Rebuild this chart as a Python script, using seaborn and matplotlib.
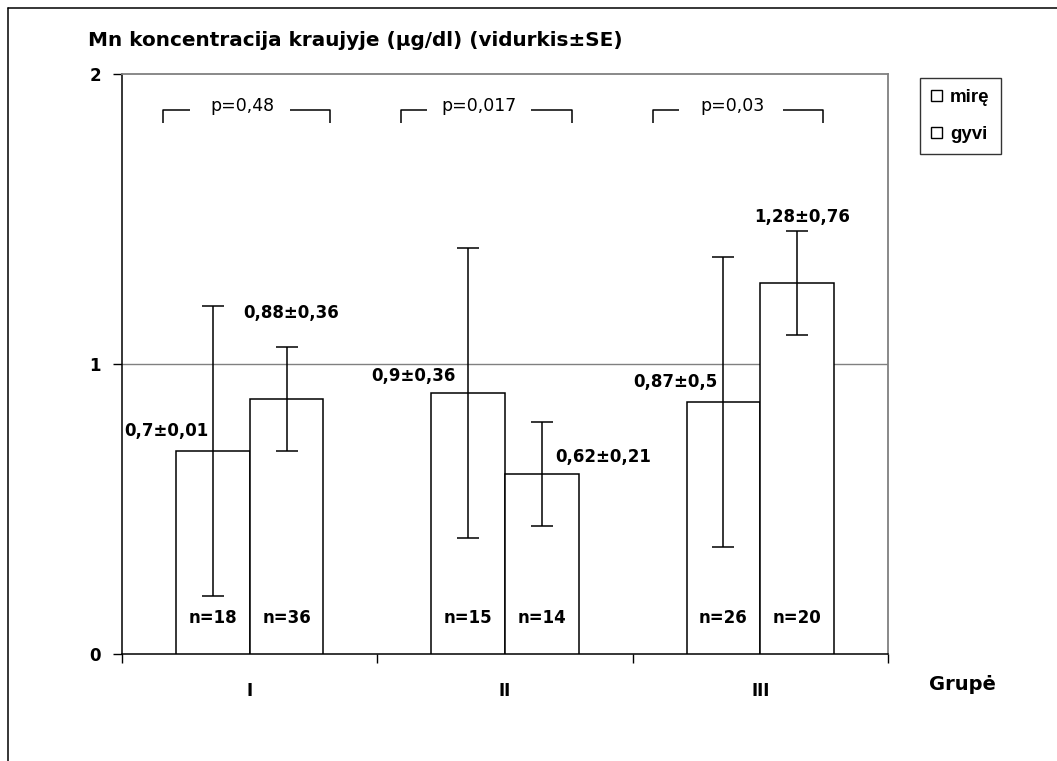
import matplotlib
matplotlib.use("Agg")
import matplotlib.pyplot as plt
from matplotlib.lines import Line2D
from matplotlib.patches import Patch
import seaborn as sns
import pandas as pd

# --- data -------------------------------------------------------------
groups = ["I", "II", "III"]
statuses = ["mirę", "gyvi"]
mean_mire = [0.70, 0.90, 0.87]
mean_gyvi = [0.88, 0.62, 1.28]
err_mire = [0.50, 0.50, 0.50]
err_gyvi = [0.18, 0.18, 0.18]
label_mire = ["0,7±0,01", "0,9±0,36", "0,87±0,5"]
label_gyvi = ["0,88±0,36", "0,62±0,21", "1,28±0,76"]
n_mire = [18, 15, 26]
n_gyvi = [36, 14, 20]
p_values = ["p=0,48", "p=0,017", "p=0,03"]

df = pd.DataFrame({
    "Grupė": groups * 2,
    "Būklė": [statuses[0]] * 3 + [statuses[1]] * 3,
    "Mn": mean_mire + mean_gyvi,
})

# --- style ------------------------------------------------------------
sns.set_theme(style="white")
FONT = ["DejaVu Sans"]
plt.rcParams["font.family"] = FONT
for key in ["text.color", "axes.labelcolor", "xtick.color", "ytick.color",
            "xtick.labelcolor", "ytick.labelcolor"]:
    plt.rcParams[key] = "black"

W, H, DPI = 1057, 761, 100
fig = plt.figure(figsize=(W / DPI, H / DPI), dpi=DPI)
fig.patch.set_facecolor("white")
ax = fig.add_axes([122 / W, 1 - 654 / H, (888 - 122) / W, (654 - 74) / H])

sns.barplot(data=df, x="Grupė", y="Mn", hue="Būklė", order=groups,
            hue_order=statuses, palette=["white", "white"],
            edgecolor="black", linewidth=1.1, width=0.578,
            errorbar=None, legend=False, ax=ax, zorder=3)
bar_containers = list(ax.containers)

ax.set_xlim(-0.5, 2.5)
ax.set_ylim(0, 2)

# horizontal reference line at 1
ax.axhline(1, color="#808080", lw=1.0, zorder=1)

# spines
for s in ["left", "bottom"]:
    ax.spines[s].set_color("black")
    ax.spines[s].set_linewidth(1.1)
for s in ["top", "right"]:
    ax.spines[s].set_color("#808080")
    ax.spines[s].set_linewidth(1.3)

LBL = 12  # bold label size

# ticks
ax.set_yticks([0, 1, 2])
ax.set_yticklabels(["0", "1", "2"], fontweight="bold", fontsize=LBL)
ax.set_xticks([0, 1, 2])
ax.set_xticklabels(groups, fontweight="bold", fontsize=LBL)
ax.set_xticks([-0.5, 0.5, 1.5, 2.5], minor=True)
ax.tick_params(axis="y", which="major", direction="out", length=6.5,
               width=1, color="black", left=True, pad=8.5)
ax.tick_params(axis="x", which="major", length=0, pad=20)
ax.tick_params(axis="x", which="minor", direction="out", length=6.5,
               width=1, color="black", bottom=True)
ax.set_xlabel("")
ax.set_ylabel("")

# error bars, value and n labels
means = [mean_mire, mean_gyvi]
errs = [err_mire, err_gyvi]
texts = [label_mire, label_gyvi]
ns = [n_mire, n_gyvi]
# label offsets in pixels from the top-centre of each bar
label_offsets = [
    [(-46, 20), (-55, 17), (-48, 20)],
    [(5, 86), (61, 17), (5, 66)],
]
for k, cont in enumerate(bar_containers):
    for j, bar in enumerate(cont.patches):
        xc = bar.get_x() + bar.get_width() / 2
        top = bar.get_height()
        ax.errorbar(xc, means[k][j], yerr=errs[k][j], fmt="none",
                    ecolor="black", elinewidth=1.1, capsize=8,
                    capthick=1.1, zorder=4)
        dx, dy = label_offsets[k][j]
        ax.annotate(texts[k][j], (xc, top), xytext=(dx, dy),
                    textcoords="offset pixels", ha="center", va="center",
                    fontsize=LBL, fontweight="bold", zorder=5)
        ax.annotate(f"n={ns[k][j]}", (xc, 0), xytext=(0, 36),
                    textcoords="offset pixels", ha="center", va="center",
                    fontsize=LBL, fontweight="bold", zorder=5)

# significance brackets: (left end, left gap, text centre, right gap, right end)
brackets = [
    (-0.340, -0.234, -0.030, 0.158, 0.315),
    (-0.409, -0.307, -0.101, 0.101, 0.263),
    (-0.422, -0.319, -0.109, 0.089, 0.246),
]
y_top, y_low = 1.876, 1.831
for g, (l0, l1, tc, r0, r1) in enumerate(brackets):
    ax.plot([g + l0, g + l0, g + l1], [y_low, y_top, y_top],
            color="black", lw=1.1, solid_capstyle="butt", zorder=4)
    ax.plot([g + r0, g + r1, g + r1], [y_top, y_top, y_low],
            color="black", lw=1.1, solid_capstyle="butt", zorder=4)
    ax.text(g + tc, y_top + 0.012, p_values[g], ha="center", va="center",
            fontsize=12.5, zorder=5)

# title and axis caption
fig.text(88 / W, 1 - 40 / H, "Mn koncentracija kraujyje (μg/dl) (vidurkis±SE)",
         ha="left", va="center", fontsize=14.4, fontweight="bold")
fig.text(962 / W, 1 - 684 / H, "Grupė", ha="center", va="center",
         fontsize=14, fontweight="bold")

# legend
handles = [Patch(facecolor="white", edgecolor="black", linewidth=1.0)
           for _ in statuses]
leg = fig.legend(handles, statuses, loc="upper left",
                 bbox_to_anchor=(920 / W, 1 - 78 / H), frameon=True,
                 fancybox=False, edgecolor="black", handlelength=0.55,
                 handleheight=0.55, handletextpad=0.45, labelspacing=1.05,
                 borderpad=0.6, borderaxespad=0,
                 prop={"family": ["Liberation Sans"], "weight": "bold",
                       "size": 13.5})
leg.get_frame().set_linewidth(1.0)

# outer frame of the figure
fig.add_artist(Line2D([8 / W, 1], [1 - 8 / H, 1 - 8 / H], color="black",
                      lw=1.1, transform=fig.transFigure))
fig.add_artist(Line2D([8 / W, 8 / W], [0, 1 - 8 / H], color="black",
                      lw=1.1, transform=fig.transFigure))

fig.savefig("out.png", dpi=DPI, facecolor="white")
